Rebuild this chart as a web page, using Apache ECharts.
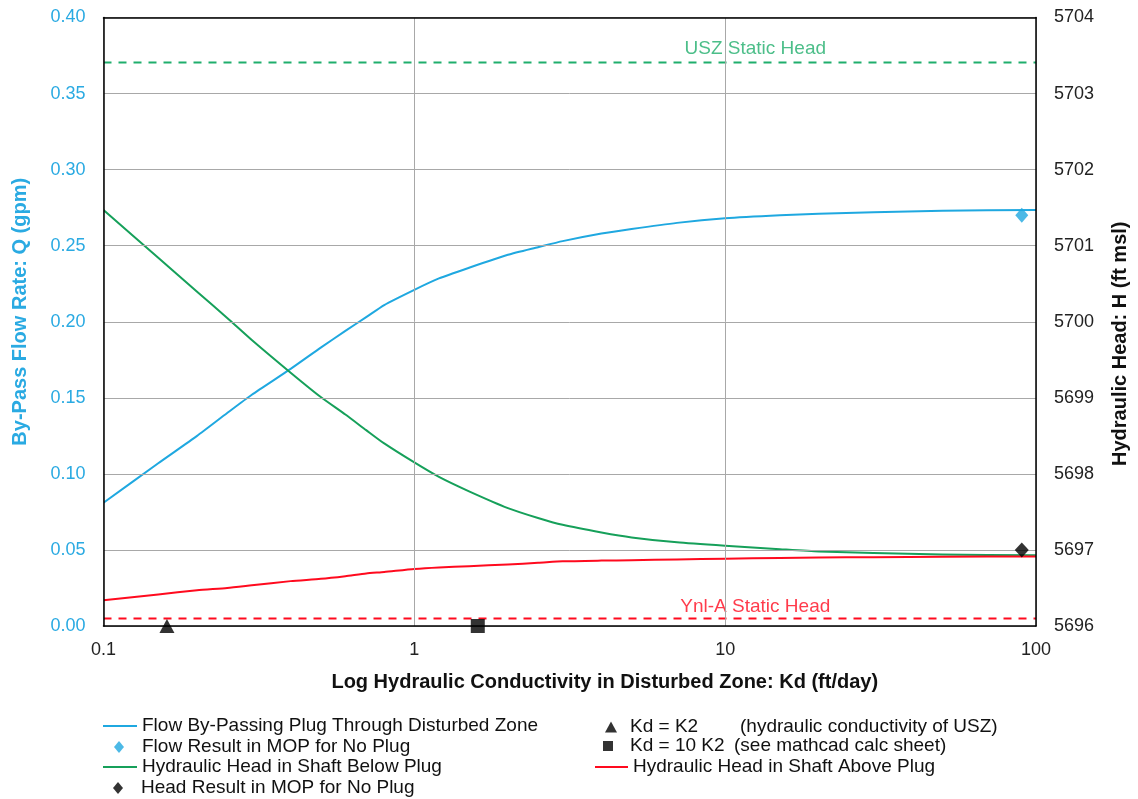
<!DOCTYPE html>
<html>
<head>
<meta charset="utf-8">
<script src="https://cdn.jsdelivr.net/npm/echarts@6/dist/echarts.min.js"></script>
<style>
html,body{margin:0;padding:0;background:#fff;}
#chart{width:1138px;height:799px;}
</style>
</head>
<body>
<div id="chart"></div>
<script>
// Hydraulic conductivity in disturbed zone Kd (ft/day)
const kd = [0.1, 0.15, 0.2, 0.25, 0.3, 0.4, 0.5, 0.6, 0.7, 0.8, 1, 1.2, 1.5, 2, 2.5, 3, 4, 5, 7, 10, 15, 20, 30, 50, 100];
// By-pass flow rate Q (gpm)
const flowQ = [0.081, 0.107, 0.125, 0.140, 0.152, 0.169, 0.183, 0.194, 0.203, 0.211, 0.221, 0.2285, 0.2355, 0.244, 0.249, 0.253, 0.258, 0.261, 0.265, 0.268, 0.270, 0.271, 0.272, 0.273, 0.2735];
// Hydraulic head in shaft below plug H (ft msl)
const headBelow = [5701.47, 5700.84, 5700.395, 5700.05, 5699.76, 5699.33, 5699.01, 5698.78, 5698.575, 5698.40, 5698.15, 5697.96, 5697.77, 5697.55, 5697.42, 5697.33, 5697.23, 5697.165, 5697.1, 5697.055, 5697.01, 5696.98, 5696.96, 5696.94, 5696.93];
// Hydraulic head in shaft above plug H (ft msl)
const headAbove = [5696.34, 5696.415, 5696.47, 5696.5, 5696.535, 5696.59, 5696.62, 5696.655, 5696.69, 5696.71, 5696.75, 5696.77, 5696.785, 5696.81, 5696.83, 5696.85, 5696.86, 5696.865, 5696.875, 5696.885, 5696.895, 5696.9, 5696.905, 5696.91, 5696.915];
// MOP results for no plug
const mopKd = 90;
const mopFlow = 0.270;
const mopHead = 5697.0;
// Kd = K2 and Kd = 10 K2 markers
const k2 = 0.16;
const k2x10 = 1.6;
// Static heads
const uszStaticHead = 5703.41;
const ynlStaticHead = 5696.1;
const staticLabelKd = 12.5;
const kdRange = [0.1, 100];
// Tick labels
const xTickLabels = ['0.1', '1', '10', '100'];

const names = {
  flow: 'Flow By-Passing Plug Through Disturbed Zone',
  flowMop: 'Flow Result in MOP for No Plug',
  below: 'Hydraulic Head in Shaft Below Plug',
  headMop: 'Head Result in MOP for No Plug',
  k2: 'Kd = K2',
  k10: 'Kd = 10 K2',
  above: 'Hydraulic Head in Shaft Above Plug'
};

const FONT = '"Liberation Sans", Arial, sans-serif';
const CYAN = '#1fa8e0';
const CYAN_TXT = '#2aaae2';
const GREEN = '#16a05a';
const GREEN_D = '#1fae6c';
const RED = '#ff0a1e';

const zip = (xs, ys) => xs.map((x, i) => [x, ys[i]]);

function legend(name, left, cy, opts) {
  const o = Object.assign({
    show: true,
    left: left,
    top: cy - 11,
    orient: 'horizontal',
    padding: 0,
    itemGap: 0,
    selectedMode: false,
    data: [{ name: name, icon: opts.icon }],
    itemWidth: opts.w,
    itemHeight: opts.h,
    textStyle: { fontFamily: FONT, fontSize: 19, color: '#111', padding: [0, 0, 0, opts.pad || 0] , lineHeight: 22}
  }, opts.extra || {});
  return o;
}

const legends = [
  legend(names.flow, 103, 726, { icon: 'rect', w: 34, h: 2 }),
  legend(names.flowMop, 114, 747, { icon: 'diamond', w: 10, h: 12, pad: 13 }),
  legend(names.below, 103, 767, { icon: 'rect', w: 34, h: 2 }),
  legend(names.headMop, 113, 788, { icon: 'diamond', w: 10, h: 12, pad: 13 }),
  legend(names.k2, 605, 727, { icon: 'triangle', w: 12, h: 11, pad: 8, extra: {
    formatter: n => '{a|' + n + '}{b|(hydraulic conductivity of USZ)}',
    textStyle: { fontFamily: FONT, fontSize: 19, color: '#111', padding: [0, 0, 0, 8], lineHeight: 22,
      rich: { a: { width: 110, fontFamily: FONT, fontSize: 19, color: '#111' }, b: { fontFamily: FONT, fontSize: 19, color: '#111' } } }
  } }),
  legend(names.k10, 603, 746, { icon: 'rect', w: 10, h: 10, pad: 12, extra: {
    formatter: n => '{a|' + n + '}{b|(see mathcad calc sheet)}',
    textStyle: { fontFamily: FONT, fontSize: 19, color: '#111', padding: [0, 0, 0, 12], lineHeight: 22,
      rich: { a: { width: 104, fontFamily: FONT, fontSize: 19, color: '#111' }, b: { fontFamily: FONT, fontSize: 19, color: '#111' } } }
  } }),
  legend(names.above, 595, 767, { icon: 'rect', w: 33, h: 2 })
];

const option = {
  animation: false,
  backgroundColor: '#fff',
  textStyle: { fontFamily: FONT },
  legend: legends,
  grid: { left: 103.5, right: 101.5, top: 17.5, bottom: 173, show: false, containLabel: false },
  xAxis: [{
    type: 'log', logBase: 10, min: kdRange[0], max: kdRange[1],
    name: 'Log Hydraulic Conductivity in Disturbed Zone: Kd (ft/day)',
    nameLocation: 'middle', nameGap: 46,
    nameTextStyle: { fontFamily: FONT, fontSize: 20, fontWeight: 'bold', color: '#111', padding: [0, 0, 0, 70] },
    axisLine: { show: true, lineStyle: { color: '#000', width: 1.5 } },
    axisTick: { show: false },
    axisLabel: { fontFamily: FONT, fontSize: 18, color: '#222', margin: 15,
      formatter: v => { const i = Math.round(Math.log10(v)) + 1; return xTickLabels[i] !== undefined ? xTickLabels[i] : ''; } },
    splitLine: { show: true, lineStyle: { color: '#a8a8a8', width: 1 } },
    minorSplitLine: { show: false },
    z: 4
  }, {
    type: 'log', logBase: 10, min: kdRange[0], max: kdRange[1], position: 'top',
    axisLine: { show: true, lineStyle: { color: '#000', width: 1.5 } },
    axisTick: { show: false }, axisLabel: { show: false }, splitLine: { show: false },
    z: 4
  }],
  yAxis: [
    {
      type: 'value', min: 0, max: 0.4, interval: 0.05, position: 'left',
      name: 'By-Pass Flow Rate: Q (gpm)', nameLocation: 'middle', nameGap: 73, nameRotate: 90,
      nameTextStyle: { fontFamily: FONT, fontSize: 20, fontWeight: 'bold', color: CYAN_TXT, padding: [0, 0, 0, 20] },
      axisLine: { show: true, lineStyle: { color: '#000', width: 1.5 } },
      axisTick: { show: false },
      axisLabel: { fontFamily: FONT, fontSize: 18, color: CYAN_TXT, margin: 18, formatter: v => v.toFixed(2) },
      splitLine: { show: true, lineStyle: { color: '#a8a8a8', width: 1 } },
      z: 4
    },
    {
      type: 'value', min: 5696, max: 5704, interval: 1, position: 'right',
      name: 'Hydraulic Head: H (ft msl)', nameLocation: 'middle', nameGap: 74, nameRotate: 90,
      nameTextStyle: { fontFamily: FONT, fontSize: 20, fontWeight: 'bold', color: '#111', padding: [0, 44, 0, 0] },
      axisLine: { show: true, lineStyle: { color: '#000', width: 1.5 } },
      axisTick: { show: false },
      axisLabel: { fontFamily: FONT, fontSize: 18, color: '#222', margin: 18, formatter: v => String(v) },
      splitLine: { show: false },
      z: 4
    }
  ],
  series: [
    { name: 'usz', type: 'line', yAxisIndex: 1, data: zip(kdRange, [uszStaticHead, uszStaticHead]),
      showSymbol: false, lineStyle: { color: GREEN_D, width: 2, type: [8, 7] }, z: 2 },
    { name: 'ynl', type: 'line', yAxisIndex: 1, data: zip(kdRange, [ynlStaticHead, ynlStaticHead]),
      showSymbol: false, lineStyle: { color: RED, width: 2, type: [8, 7] }, z: 2 },
    { name: 'uszLabel', type: 'scatter', yAxisIndex: 1, data: [[staticLabelKd, uszStaticHead]], symbolSize: 0,
      label: { show: true, position: 'top', distance: 4, formatter: 'USZ Static Head', fontFamily: FONT, fontSize: 19, color: GREEN_D } },
    { name: 'ynlLabel', type: 'scatter', yAxisIndex: 1, data: [[staticLabelKd, ynlStaticHead]], symbolSize: 0,
      label: { show: true, position: 'top', distance: 2, formatter: 'Ynl-A Static Head', fontFamily: FONT, fontSize: 19, color: RED } },
    { name: names.flow, type: 'line', yAxisIndex: 0, data: zip(kd, flowQ), showSymbol: false, smooth: 0.2,
      lineStyle: { color: CYAN, width: 2, join: 'round' }, itemStyle: { color: CYAN }, z: 3 },
    { name: names.below, type: 'line', yAxisIndex: 1, data: zip(kd, headBelow), showSymbol: false, smooth: 0.2,
      lineStyle: { color: GREEN, width: 2, join: 'round' }, itemStyle: { color: GREEN }, z: 3 },
    { name: names.above, type: 'line', yAxisIndex: 1, data: zip(kd, headAbove), showSymbol: false, smooth: 0.2,
      lineStyle: { color: RED, width: 2, join: 'round' }, itemStyle: { color: RED }, z: 3 },
    { name: names.flowMop, type: 'scatter', yAxisIndex: 0, data: [[mopKd, mopFlow]], symbol: 'diamond', symbolSize: [13, 15],
      itemStyle: { color: CYAN }, z: 5 },
    { name: names.headMop, type: 'scatter', yAxisIndex: 1, data: [[mopKd, mopHead]], symbol: 'diamond', symbolSize: [14, 15],
      itemStyle: { color: '#000' }, z: 5 },
    { name: names.k2, type: 'scatter', yAxisIndex: 0, data: [[k2, 0]], symbol: 'triangle', symbolSize: [15, 14],
      itemStyle: { color: '#000' }, z: 5 },
    { name: names.k10, type: 'scatter', yAxisIndex: 0, data: [[k2x10, 0]], symbol: 'rect', symbolSize: 14,
      itemStyle: { color: '#000' }, z: 5 }
  ]
};

const chart = echarts.init(document.getElementById('chart'), null, { renderer: 'canvas' });
chart.setOption(option);
</script>
</body>
</html>
